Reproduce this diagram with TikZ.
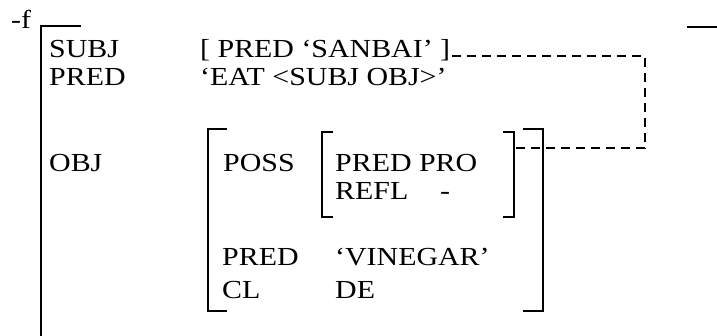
\documentclass[tikz,border=0pt]{standalone}
\usepackage{fontspec}
\setmainfont{Liberation Serif}[FakeStretch=1.15]
\begin{document}
\begin{tikzpicture}[x=1pt,y=-1pt,
  txt/.style={anchor=base west,inner sep=0pt,font=\fontsize{26pt}{30pt}\selectfont},
  brk/.style={line width=1.7pt,line cap=butt},
  bigbrk/.style={line width=2pt,line cap=butt},
  link/.style={line width=2pt,dash pattern=on 9pt off 6pt}]
\useasboundingbox (0,0) rectangle (717,335);
% label
\node[txt] (lab) at (11,28) {-f};
% outer f-structure bracket
\draw[bigbrk] (81,26) -- (41,26) -- (41,336);
\draw[bigbrk] (687,27) -- (718,27);
% attributes
\node[txt] (subj) at (49,57) {SUBJ};
\node[txt] (pred) at (49,85) {PRED};
\node[txt] (obj) at (49,171) {OBJ};
\node[txt] (subjval) at (200,57) {[ PRED ‘SANBAI’ ]};
\node[txt] (predval) at (200,85) {‘EAT <SUBJ OBJ>’};
% OBJ bracket
\draw[brk] (227,129) -- (208,129) -- (208,311) -- (227,311);
\draw[brk] (523,129) -- (543,129) -- (543,311) -- (523,311);
\node[txt] (poss) at (223,171) {POSS};
\node[txt] (opred) at (222,265) {PRED};
\node[txt] (ocl) at (222,298) {CL};
\node[txt] (vin) at (335,265) {‘VINEGAR’};
\node[txt] (de) at (335,298) {DE};
% POSS bracket
\draw[brk] (333,132) -- (322,132) -- (322,217) -- (333,217);
\draw[brk] (503,132) -- (514,132) -- (514,217) -- (503,217);
\node[txt] (ppred) at (335,171) {PRED PRO};
\node[txt] (refl) at (335,199) {REFL};
\node[txt] (minus) at (440,199) {-};
% dashed link
\coordinate (a) at (452,56);
\coordinate (b) at (645,56);
\coordinate (c) at (645,148);
\coordinate (d) at (516,148);
\draw[link] (a) -- (b) -- (c) -- (d);
\end{tikzpicture}
\end{document}
